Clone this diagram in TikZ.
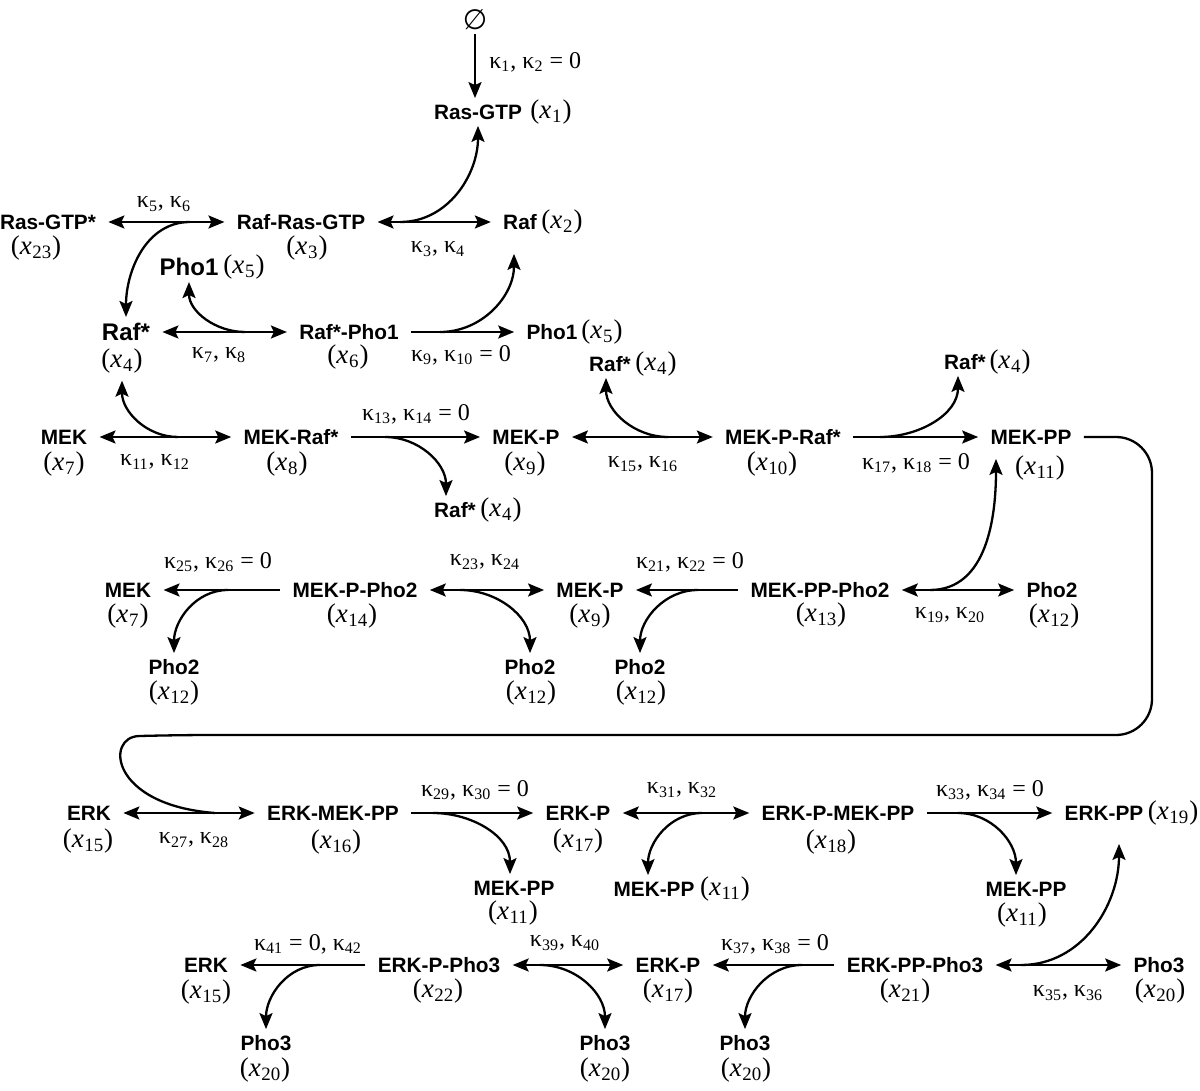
\documentclass[tikz,border=0pt]{standalone}
\usepackage{fontspec}
\setmainfont{Liberation Serif}
\newfontfamily\lsans{Liberation Sans}
\newfontfamily\djv{DejaVu Sans}
\usetikzlibrary{arrows.meta}
\newcommand{\kp}[1]{κ\textsubscript{#1}}
\newcommand{\xv}[1]{(\textit{x}\kern0.3pt\textsubscript{#1})}
\tikzset{
  sp/.style={font=\lsans\bfseries\fontsize{10.4}{12}\selectfont, inner xsep=6pt, inner ysep=3pt, text height=7.5pt, text depth=0pt},
  bigsp/.style={font=\lsans\bfseries\fontsize{12}{14}\selectfont, inner xsep=6pt, inner ysep=3pt, text height=8.6pt, text depth=0pt},
  xl/.style={font=\fontsize{13.5}{15}\selectfont, inner sep=0.5pt},
  kl/.style={font=\fontsize{12}{14}\selectfont, inner sep=1pt},
  ln/.style={line width=1.15pt},
  tip/.tip={Stealth[length=8pt,width=6.5pt,inset=1.5pt]},
  arr/.style={ln, -tip},
  dbl/.style={ln, tip-tip},
}
\begin{document}
\begin{tikzpicture}[x=0.5pt,y=-0.5pt]
\path[fill=white] (0,0) rectangle (1200,1091);
\useasboundingbox (0,0) rectangle (1200,1091);

% ---------- row 0
\node[font=\djv\fontsize{14}{16}\selectfont, inner sep=2pt] (empty) at (475,20) {∅};
\node[kl,anchor=west] (k12) at (487,62) {\kp{1}, \kp{2} = 0};
\node[sp] (ras1) at (478,112) {Ras-GTP};
\node[xl] (x1) at (551,112) {\xv{1}};

% ---------- row 1
\node[sp] (ras23) at (48,222) {Ras-GTP*};
\node[xl] (x23) at (36,248) {\xv{23}};
\node[sp] (rrg) at (301,222) {Raf-Ras-GTP};
\node[xl] (x3) at (307,248) {\xv{3}};
\node[sp] (raf) at (520,222) {Raf};
\node[xl] (x2) at (562,222) {\xv{2}};
\node[kl] (k56) at (164,204) {\kp{5}, \kp{6}};
\node[kl] (k34) at (438,249) {\kp{3}, \kp{4}};
\node[bigsp] (pho1a) at (189,267) {Pho1};
\node[xl] (x5a) at (244,267) {\xv{5}};

% ---------- row 2
\node[bigsp] (raf4) at (126,332) {Raf*};
\node[xl] (x4a) at (122,361) {\xv{4}};
\node[sp] (rp1) at (349,332) {Raf*-Pho1};
\node[xl] (x6) at (348,357) {\xv{6}};
\node[sp] (pho1b) at (552,332) {Pho1};
\node[xl] (x5b) at (602,332) {\xv{5}};
\node[kl] (k78) at (219,355) {\kp{7}, \kp{8}};
\node[kl] (k910) at (461,355) {\kp{9}, \kp{10} = 0};

% ---------- row 3
\node[sp] (mek7) at (64,437) {MEK};
\node[xl] (x7) at (64,464) {\xv{7}};
\node[sp] (mekraf) at (291,437) {MEK-Raf*};
\node[xl] (x8) at (287,464) {\xv{8}};
\node[sp] (mekp) at (526,437) {MEK-P};
\node[xl] (x9) at (525,464) {\xv{9}};
\node[sp] (mekpraf) at (783,437) {MEK-P-Raf*};
\node[xl] (x10) at (772,464) {\xv{10}};
\node[sp] (mekpp) at (1031,437) {MEK-PP};
\node[xl] (x11a) at (1040,468) {\xv{11}};
\node[kl] (k1112) at (155,462) {\kp{11}, \kp{12}};
\node[kl] (k1314) at (416,414) {\kp{13}, \kp{14} = 0};
\node[kl] (k1516) at (643,464) {\kp{15}, \kp{16}};
\node[kl] (k1718) at (916,463) {\kp{17}, \kp{18} = 0};
\node[sp] (raf4c) at (455,510) {Raf*};
\node[xl] (x4c) at (501,510) {\xv{4}};
\node[sp] (raf4d) at (610,364) {Raf*};
\node[xl] (x4d) at (656,364) {\xv{4}};
\node[sp] (raf4e) at (965,362) {Raf*};
\node[xl] (x4e) at (1010,362) {\xv{4}};

% ---------- row 4
\node[sp] (mek7b) at (128,590) {MEK};
\node[xl] (x7b) at (128,616) {\xv{7}};
\node[sp] (mekph2) at (355,590) {MEK-P-Pho2};
\node[xl] (x14) at (352,616) {\xv{14}};
\node[sp] (mekp9) at (590,590) {MEK-P};
\node[xl] (x9b) at (590,616) {\xv{9}};
\node[sp] (mekpph2) at (820,590) {MEK-PP-Pho2};
\node[xl] (x13) at (821,615) {\xv{13}};
\node[sp] (pho2d) at (1052,590) {Pho2};
\node[xl] (x12d) at (1054,616) {\xv{12}};
\node[sp] (pho2a) at (174,667) {Pho2};
\node[xl] (x12a) at (174,693) {\xv{12}};
\node[sp] (pho2b) at (530,667) {Pho2};
\node[xl] (x12b) at (531,693) {\xv{12}};
\node[sp] (pho2c) at (640,667) {Pho2};
\node[xl] (x12c) at (641,693) {\xv{12}};
\node[kl] (k2526) at (218,562) {\kp{25}, \kp{26} = 0};
\node[kl] (k2324) at (485,562) {\kp{23}, \kp{24}};
\node[kl] (k2122) at (690,562) {\kp{21}, \kp{22} = 0};
\node[kl] (k1920) at (950,615) {\kp{19}, \kp{20}};

% ---------- row 5
\node[sp] (erk) at (89,813) {ERK};
\node[xl] (x15) at (88,841) {\xv{15}};
\node[sp] (erkmekpp) at (333,813) {ERK-MEK-PP};
\node[xl] (x16) at (336,842) {\xv{16}};
\node[sp] (erkp) at (578,813) {ERK-P};
\node[xl] (x17) at (578,841) {\xv{17}};
\node[sp] (erkpmekpp) at (838,813) {ERK-P-MEK-PP};
\node[xl] (x18) at (831,842) {\xv{18}};
\node[sp] (erkpp) at (1104,813) {ERK-PP};
\node[xl] (x19) at (1173,813) {\xv{19}};
\node[sp] (mekppa) at (514,888) {MEK-PP};
\node[xl] (x11b) at (513,913) {\xv{11}};
\node[sp] (mekppb) at (654,889) {MEK-PP};
\node[xl] (x11c) at (725,889) {\xv{11}};
\node[sp] (mekppc) at (1026,889) {MEK-PP};
\node[xl] (x11d) at (1022,915) {\xv{11}};
\node[kl] (k2728) at (194,840) {\kp{27}, \kp{28}};
\node[kl] (k2930) at (475,790) {\kp{29}, \kp{30} = 0};
\node[kl] (k3132) at (682,790) {\kp{31}, \kp{32}};
\node[kl] (k3334) at (990,790) {\kp{33}, \kp{34} = 0};

% ---------- row 6
\node[sp] (erk15) at (206,965) {ERK};
\node[xl] (x15b) at (206,992) {\xv{15}};
\node[sp] (erkph3) at (439,965) {ERK-P-Pho3};
\node[xl] (x22) at (438,991) {\xv{22}};
\node[sp] (erkp17) at (668,965) {ERK-P};
\node[xl] (x17b) at (668,991) {\xv{17}};
\node[sp] (erkpph3) at (915,965) {ERK-PP-Pho3};
\node[xl] (x21) at (905,991) {\xv{21}};
\node[sp] (pho3d) at (1159,965) {Pho3};
\node[xl] (x20d) at (1160,991) {\xv{20}};
\node[sp] (pho3a) at (266,1043) {Pho3};
\node[xl] (x20a) at (265,1070) {\xv{20}};
\node[sp] (pho3b) at (605,1043) {Pho3};
\node[xl] (x20b) at (605,1070) {\xv{20}};
\node[sp] (pho3c) at (745,1043) {Pho3};
\node[xl] (x20c) at (746,1070) {\xv{20}};
\node[kl] (k4142) at (308,944) {\kp{41} = 0, \kp{42}};
\node[kl] (k3940) at (565,943) {\kp{39}, \kp{40}};
\node[kl] (k3738) at (775,944) {\kp{37}, \kp{38} = 0};
\node[kl] (k3536) at (1068,993) {\kp{35}, \kp{36}};

% ---------- branch points
\coordinate (b1) at (400,222);
\coordinate (b2) at (190,222);
\coordinate (b3) at (245,332);
\coordinate (b4) at (440,332);
\coordinate (b5) at (178,437);
\coordinate (b6) at (385,437);
\coordinate (b7) at (668,437);
\coordinate (b8) at (880,437);
\coordinate (b9) at (930,590);
\coordinate (b10) at (228,590);
\coordinate (b11) at (460,590);
\coordinate (b12) at (698,590);
\coordinate (b13) at (215,813);
\coordinate (b14) at (433,813);
\coordinate (b15) at (702,813);
\coordinate (b16) at (958,813);
\coordinate (b17) at (320,965);
\coordinate (b18) at (540,965);
\coordinate (b19) at (802,965);
\coordinate (b20) at (1021,965);

% ---------- straight reactions
\draw[arr] (empty.south) -- (empty.south |- ras1.north);
\draw[dbl] (ras23.east) -- (rrg.west);
\draw[dbl] (rrg.east) -- (raf.west);
\draw[dbl] (raf4.east) -- (rp1.west);
\draw[arr] (rp1.east) -- (pho1b.west);
\draw[dbl] (mek7.east) -- (mekraf.west);
\draw[arr] (mekraf.east) -- (mekp.west);
\draw[dbl] (mekp.east) -- (mekpraf.west);
\draw[arr] (mekpraf.east) -- (mekpp.west);
\draw[arr] (mekph2.west) -- (mek7b.east);
\draw[dbl] (mekph2.east) -- (mekp9.west);
\draw[arr] (mekpph2.west) -- (mekp9.east);
\draw[dbl] (mekpph2.east) -- (pho2d.west);
\draw[dbl] (erk.east) -- (erkmekpp.west);
\draw[arr] (erkmekpp.east) -- (erkp.west);
\draw[dbl] (erkp.east) -- (erkpmekpp.west);
\draw[arr] (erkpmekpp.east) -- (erkpp.west);
\draw[arr] (erkph3.west) -- (erk15.east);
\draw[dbl] (erkph3.east) -- (erkp17.west);
\draw[arr] (erkpph3.west) -- (erkp17.east);
\draw[dbl] (erkpph3.east) -- (pho3d.west);

% ---------- branches
\draw[arr] (b1) to[out=0,in=-90] (ras1.south);
\draw[arr] (b2) to[out=180,in=90] (raf4.north);
\draw[arr] (b3) to[out=180,in=-90] (pho1a.south);
\draw[arr] (b4) to[out=0,in=-90] ([shift={(-3pt,-9pt)}]raf.south);
\draw[arr] (b5) to[out=180,in=-90] ([yshift=-3pt]x4a.south);
\draw[arr] (b6) to[out=0,in=90] ([xshift=-4.5pt]raf4c.north);
\draw[arr] (b7) to[out=180,in=-90] ([xshift=-2pt]raf4d.south);
\draw[arr] (b8) to[out=0,in=-90] ([xshift=-3.5pt]raf4e.south);
\draw[arr] (b9) to[out=0,in=-90] ([shift={(-17.5pt,-4pt)}]mekpp.south);
\draw[arr] (b10) to[out=180,in=90] (pho2a.north);
\draw[arr] (b11) to[out=0,in=90] (pho2b.north);
\draw[arr] (b12) to[out=180,in=90] (pho2c.north);
\draw[arr] (b14) to[out=0,in=90] ([xshift=-2pt]mekppa.north);
\draw[arr] (b15) to[out=180,in=90] ([xshift=-3pt]mekppb.north);
\draw[arr] (b16) to[out=0,in=90] ([xshift=-5pt]mekppc.north);
\draw[arr] (b17) to[out=180,in=90] (pho3a.north);
\draw[arr] (b18) to[out=0,in=90] (pho3b.north);
\draw[arr] (b19) to[out=180,in=90] (pho3c.north);
\draw[arr] (b20) to[out=0,in=-90] ([shift={(7.5pt,-8.5pt)}]erkpp.south);

% ---------- MEK-PP loop into the ERK reaction
\draw[ln, rounded corners=18pt] (mekpp.east) -- (1152,437) -- (1152,735) -- (175,735)
  [sharp corners] .. controls (105,737) and (110,805) .. (b13);
\end{tikzpicture}
\end{document}
